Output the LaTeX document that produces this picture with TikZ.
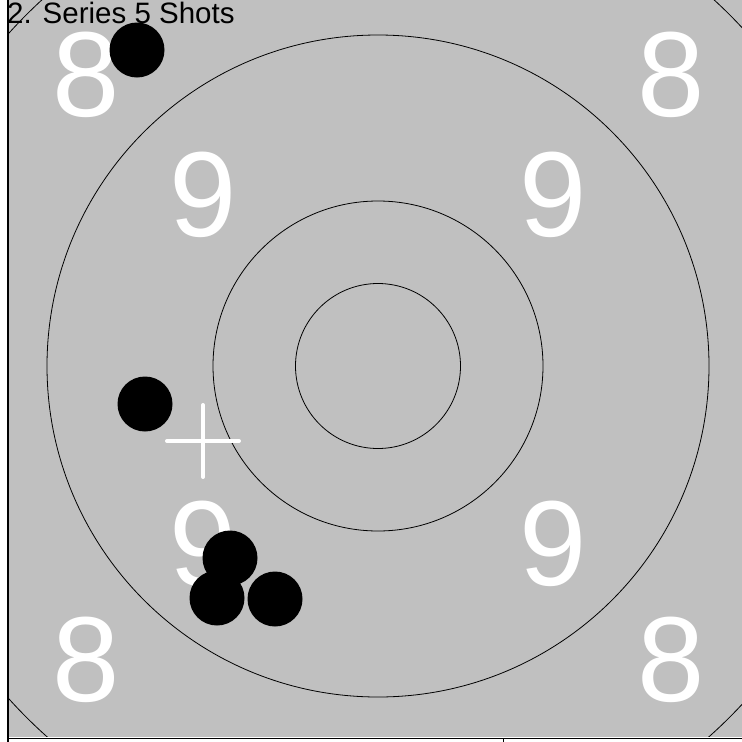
\documentclass[tikz,border=0pt]{standalone}
\usepackage{fontspec}
\setmainfont{Liberation Sans}
\usepackage{xcolor}
\definecolor{targetgray}{HTML}{C0C0C0}
\usetikzlibrary{positioning}
\tikzset{
  ring/.style    = {draw=black, line width=0.8pt},
  ringnum/.style = {text=white, inner sep=0pt,
                    font=\fontsize{121}{121}\selectfont},
  shot/.style    = {circle, fill=black, minimum size=55pt, inner sep=0pt},
  mpi/.style     = {draw=white, line width=4pt, line cap=round},
  axis/.style    = {draw=black, line width=1.2pt},
  title/.style   = {anchor=base west, inner sep=0pt,
                    font=\fontsize{29.5}{29.5}\selectfont}
}

\begin{document}
\begin{tikzpicture}[x=1pt, y=-1pt]
  \useasboundingbox (0,0) rectangle (742,742);
  \fill[targetgray] (8,0) rectangle (742,736.5);
  % scoring rings
  \begin{scope}
    \clip (8,0) rectangle (742,736.5);
    \coordinate (centre) at (378,366);
    \foreach \r in {82.5,165,331,497}
      \draw[ring] (centre) circle[radius=\r pt];
  \end{scope}
  % ring numbers
  \foreach \x/\y [count=\i] in {86/75,671/75,86/660,671/660}
    \node[ringnum] (eight\i) at (\x,\y) {8};
  \foreach \x/\y [count=\i] in {203/195,553/195,203/544,553/544}
    \node[ringnum] (nine\i) at (\x,\y) {9};
  \node[title] (series) at (7,23.5) {2. Series 5 Shots};
  % mean point of impact
  \coordinate (mean) at (203,441);
  \draw[mpi] ([xshift=-36pt]mean) -- ([xshift=36pt]mean);
  \draw[mpi] ([yshift=-36pt]mean) -- ([yshift=36pt]mean);
  % shots
  \foreach \x/\y [count=\i] in {137/50,145/404,230/558,217/598,275/599}
    \node[shot] (shot\i) at (\x,\y) {};
  % axes
  \draw[axis] (8,0) -- (8,742);
  \draw[axis, line width=0.6pt] (8,738) -- (742,738);
  \draw[axis, line width=0.8pt] (503,738) -- (503,742);
\end{tikzpicture}
\end{document}
